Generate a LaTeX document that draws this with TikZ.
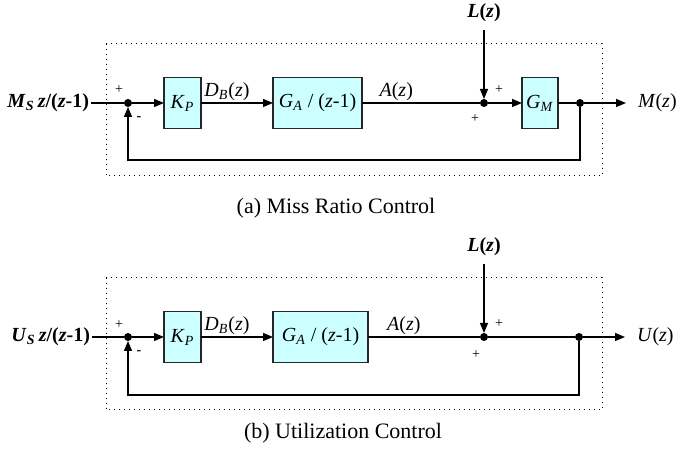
\documentclass[tikz,border=0pt]{standalone}
\usepackage{fontspec}
\setmainfont{Liberation Serif}
\usetikzlibrary{positioning,arrows.meta}
\definecolor{blockcyan}{RGB}{204,255,255}

\begin{document}
\begin{tikzpicture}[x=0.5pt, y=-0.5pt,
      block/.style={draw=black!85, fill=blockcyan, inner sep=0pt, outer sep=0pt,
                    minimum height=25.5pt, font=\fontsize{10}{12}\selectfont},
      junc/.style={circle, fill, inner sep=0pt, outer sep=0pt, minimum size=4pt},
      sig/.style={inner sep=1pt, outer sep=0pt, font=\fontsize{10}{12}\selectfont},
      sgn/.style={inner sep=0pt, font=\fontsize{7}{8}\selectfont},
      frame/.style={draw, dotted, line width=0.5pt},
      caption/.style={font=\fontsize{11}{13}\selectfont},
      >={Triangle[length=5pt,width=4pt]}, line width=0.6pt]
  \useasboundingbox (0,0) rectangle (681,453);

  % (a) miss ratio loop
  \node[junc] (sumA) at (128,103) {};
  \node[block, minimum width=18.5pt, right=16pt of sumA] (kpA) {\textit{K}\textsubscript{\textit{P}}};
  \node[block, minimum width=44.5pt, right=36pt of kpA] (gaA) {\textit{G}\textsubscript{\textit{A}} / (\textit{z}-1)};
  \node[junc, right=59pt of gaA] (addA) {};
  \node[block, minimum width=18pt, right=17pt of addA] (gmA) {\textit{G}\textsubscript{\textit{M}}};
  \node[junc, right=9pt of gmA] (outA) {};
  \node[sig, inner sep=3pt, right=24pt of outA] (mA) {\textit{M}(\textit{z})};
  \node[sig, left=16.5pt of sumA] (inA) {\textbf{\textit{M}\textsubscript{\textit{S}}\,\textit{z}/(\textit{z}-1)}};
  \node[sig, above=37.5pt of addA] (lA) {\textbf{\textit{L}(\textit{z})}};
  \coordinate[below=26.5pt of outA] (fbA);

  \draw (inA) -- (sumA);
  \draw[->] (sumA) -- (kpA);
  \draw[->] (kpA) -- node[sig, above, pos=0.36] {\textit{D}\textsubscript{\textit{B}}(\textit{z})} (gaA);
  \draw (gaA) -- node[sig, above, pos=0.29] {\textit{A}(\textit{z})} (addA);
  \draw[->, shorten <=3pt] (lA) -- (addA);
  \draw[->] (addA) -- (gmA);
  \draw (gmA) -- (outA);
  \draw[->, shorten >=3pt] (outA) -- (mA);
  \draw[->] (outA) -- (fbA) -| (sumA);

  \node[sgn] (pA1) at ([shift={(-9,-13)}]sumA) {+};
  \node[sgn] (nA1) at ([shift={(11,16)}]sumA) {\textbf{-}};
  \node[sgn] (pA2) at ([shift={(15,-13)}]addA) {+};
  \node[sgn] (pA3) at ([shift={(-9,16)}]addA) {+};

  \draw[frame] (106,44) rectangle (602,176);
  \node[caption] (capA) at (336,208) {(a) Miss Ratio Control};

  % (b) utilization loop
  \node[junc] (sumB) at (128,337) {};
  \node[block, minimum width=18.5pt, right=16pt of sumB] (kpB) {\textit{K}\textsubscript{\textit{P}}};
  \node[block, minimum width=47.5pt, right=36pt of kpB] (gaB) {\textit{G}\textsubscript{\textit{A}} / (\textit{z}-1)};
  \node[junc, right=56pt of gaB] (addB) {};
  \node[junc, right=43.5pt of addB] (outB) {};
  \node[sig, inner sep=3pt, right=24pt of outB] (uB) {\textit{U}(\textit{z})};
  \node[sig, left=16pt of sumB] (inB) {\textbf{\textit{U}\textsubscript{\textit{S}}\,\textit{z}/(\textit{z}-1)}};
  \node[sig, above=37.5pt of addB] (lB) {\textbf{\textit{L}(\textit{z})}};
  \coordinate[below=27pt of outB] (fbB);

  \draw (inB) -- (sumB);
  \draw[->] (sumB) -- (kpB);
  \draw[->] (kpB) -- node[sig, above, pos=0.36] {\textit{D}\textsubscript{\textit{B}}(\textit{z})} (gaB);
  \draw (gaB) -- node[sig, above, pos=0.32] {\textit{A}(\textit{z})} (addB);
  \draw[->, shorten <=3pt] (lB) -- (addB);
  \draw (addB) -- (outB);
  \draw[->, shorten >=3pt] (outB) -- (uB);
  \draw[->] (outB) -- (fbB) -| (sumB);

  \node[sgn] (pB1) at ([shift={(-9,-12)}]sumB) {+};
  \node[sgn] (nB1) at ([shift={(11,16)}]sumB) {\textbf{-}};
  \node[sgn] (pB2) at ([shift={(15,-13)}]addB) {+};
  \node[sgn] (pB3) at ([shift={(-8,18)}]addB) {+};

  \draw[frame] (106,278) rectangle (602,410);
  \node[caption] (capB) at (343,433) {(b) Utilization Control};
\end{tikzpicture}
\end{document}
